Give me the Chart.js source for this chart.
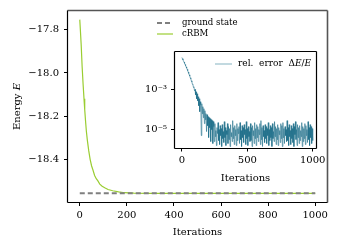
<!DOCTYPE html>
<html>
<head>
<meta charset="utf-8">
<script src="https://cdn.jsdelivr.net/npm/chart.js@4.4.1/dist/chart.umd.min.js"></script>
<style>
  body { margin: 0; background: #fff; }
  #wrap { position: relative; width: 340px; height: 250px; }
  canvas { position: absolute; }
</style>
</head>
<body>
<div id="wrap">
  <canvas id="main" width="340" height="250" style="left:0;top:0"></canvas>
  <canvas id="inset" width="200" height="145" style="left:130px;top:45px"></canvas>
</div>
<script>
// main panel
const xTickValues = [0, 200, 400, 600, 800, 1000];
const yTickValues = [-17.8, -18.0, -18.2, -18.4];
const groundIter = [0, 1000];
const groundEnergy = [-18.558, -18.558];
const crbmIter = [0, 3, 6, 10, 14, 18, 21, 25, 28, 32, 38, 44, 50, 56, 63, 70, 77, 85, 95,
  106, 120, 140, 165, 190, 230, 300, 400, 500, 600, 700, 800, 900, 1000];
const crbmEnergy = [-17.753, -17.81, -17.87, -17.97, -18.05, -18.12, -18.17, -18.23, -18.27,
  -18.31, -18.36, -18.40, -18.43, -18.45, -18.475, -18.49, -18.50, -18.515, -18.525,
  -18.532, -18.540, -18.546, -18.551, -18.555, -18.557, -18.558, -18.558, -18.558,
  -18.558, -18.558, -18.558, -18.558, -18.558];

// inset: relative error, one value every errStep iterations, stored as log10 exponent
const insetXTicks = [0, 500, 1000];
const insetYTicks = [1e-3, 1e-5];
const errStep = 4;
const relErrExp = [
  -1.38, -1.44, -1.50, -1.55, -1.61, -1.67, -1.73, -1.79, -1.85, -1.91,
  -1.97, -2.04, -2.11, -2.18, -2.25, -2.31, -2.40, -2.45, -2.55, -2.60,
  -2.72, -2.74, -2.88, -2.85, -3.05, -2.98, -3.25, -3.10, -3.45, -3.20,
  -3.55, -3.35, -3.80, -3.45, -4.10, -3.60, -3.75, -5.30, -3.70, -4.20,
  -3.85, -4.40, -3.95, -4.70, -4.05, -4.50, -4.20, -5.10, -4.25, -4.80,
  -4.35, -5.40, -4.40, -4.90, -4.45, -5.60, -4.50, -5.00, -4.55, -5.70,
  -4.60,
  -4.85, -5.60, -4.70, -5.35, -5.05, -5.80, -4.90, -5.20, -4.65, -5.55,
  -5.00, -5.75, -4.80, -5.30, -4.95, -5.85, -4.75, -5.45, -5.10, -5.65,
  -4.60, -5.40, -4.90, -5.80, -5.05, -5.25, -4.70, -5.70, -4.85, -5.50,
  -4.95, -5.85, -4.75, -5.35, -5.15, -5.60, -4.55, -5.45, -4.90, -5.75,
  -4.80, -5.30, -5.00, -5.80, -4.70, -5.55, -4.95, -5.20, -4.85, -5.70,
  -4.65, -5.50, -5.05, -5.85, -4.80, -5.40, -4.90, -5.65, -4.75, -5.25,
  -5.00, -5.75, -4.60, -5.45, -4.95, -5.80, -4.85, -5.35, -5.10, -5.60,
  -4.70, -5.55, -4.90, -5.85, -4.80, -5.30, -5.05, -5.70, -4.65, -5.45,
  -4.95, -5.80, -4.75, -5.40, -4.85, -5.60, -5.00, -5.25, -4.70, -5.75,
  -4.55, -5.50, -4.90, -5.85, -4.80, -5.35, -5.05, -5.65, -4.75, -5.45,
  -4.85, -5.70, -4.95, -5.30, -4.65, -5.80, -5.00, -5.55, -4.80, -5.40,
  -4.90, -5.85, -4.70, -5.45, -5.10, -5.60, -4.60, -5.35, -4.85, -5.75,
  -4.95, -5.50, -4.75, -5.80, -4.90, -5.25, -5.05, -5.65, -4.70, -5.45,
  -4.80, -5.85, -4.65, -5.40, -4.95, -5.70, -4.85, -5.30, -5.00, -5.60,
  -4.55, -5.55, -4.90, -5.80, -4.75, -5.35, -5.05, -5.75, -4.80, -5.45,
  -4.95, -5.65, -4.70, -5.85, -4.85, -5.25, -4.60, -5.50, -5.00, -5.80,
  -4.75, -5.40, -4.90, -5.70, -4.80, -5.55, -5.05, -5.35, -4.65, -5.85,
  -4.85, -5.60, -4.95, -5.45, -4.70, -5.75, -4.80, -5.30, -5.00, -5.65,
  -4.60, -5.50, -4.90, -5.80, -4.75, -5.40, -4.85, -5.70, -4.95, -5.55
];

const serif = "'DejaVu Serif', serif";
const GREEN = '#9acd32';
const GREY = '#7f7f7f';
const TEAL = 'rgba(28,110,136,0.85)';

function pts(xs, ys) {
  return xs.map((x, i) => ({ x, y: ys[i] }));
}

function fmtMinus(v) {
  const s = Math.abs(v).toFixed(1);
  return v < 0 ? '\u2212' + s : s;
}

const supDigits = { '-': '\u207B', '0': '\u2070', '1': '\u00B9', '2': '\u00B2', '3': '\u00B3',
  '4': '\u2074', '5': '\u2075', '6': '\u2076', '7': '\u2077', '8': '\u2078', '9': '\u2079' };
function fmtPow(v) {
  const e = String(Math.round(Math.log10(v)));
  return '10' + e.split('').map(c => supDigits[c]).join('');
}

// draw a run of [text, italic] pieces starting at x
function drawPieces(ctx, pieces, x, y, size) {
  for (const [t, it] of pieces) {
    ctx.font = (it ? 'italic ' : '') + size + 'px ' + serif;
    ctx.fillText(t, x, y);
    x += ctx.measureText(t).width;
  }
}
function piecesWidth(ctx, pieces, size) {
  let w = 0;
  for (const [t, it] of pieces) {
    ctx.font = (it ? 'italic ' : '') + size + 'px ' + serif;
    w += ctx.measureText(t).width;
  }
  return w;
}

function frame(colors) {
  return {
    id: 'frame',
    afterDraw(chart) {
      const { ctx, chartArea: a } = chart;
      const L = Math.round(a.left) - 0.5, R = Math.round(a.right) + 0.5;
      const T = Math.round(a.top) - 0.5, B = Math.round(a.bottom) + 0.5;
      const side = (x1, y1, x2, y2, c) => {
        ctx.strokeStyle = c[0];
        ctx.lineWidth = c[1];
        ctx.beginPath();
        ctx.moveTo(x1, y1);
        ctx.lineTo(x2, y2);
        ctx.stroke();
      };
      ctx.save();
      side(L, T, R, T, colors.top);
      side(R, T, R, B, colors.right);
      side(L, B, R, B, colors.bottom);
      side(L, T, L, B, colors.left);
      ctx.restore();
    }
  };
}

function fixTicks(values) {
  return (scale) => { scale.ticks = values.map(v => ({ value: v })); };
}

const tickFont = { family: serif, size: 10 };

// ---- main chart ----
const mainExtras = {
  id: 'mainExtras',
  afterDraw(chart) {
    const ctx = chart.ctx;
    ctx.save();
    ctx.fillStyle = '#000';
    ctx.textBaseline = 'middle';
    // y title with italic E
    const yt = [['Energy ', false], ['E', true]];
    ctx.translate(17, 106.5);
    ctx.rotate(-Math.PI / 2);
    drawPieces(ctx, yt, -piecesWidth(ctx, yt, 10) / 2, 0, 10);
    ctx.restore();

    // legend
    ctx.save();
    const ds = chart.data.datasets;
    const rows = [23, 34];
    ds.forEach((d, i) => {
      ctx.strokeStyle = d.borderColor;
      ctx.lineWidth = d.borderWidth;
      ctx.setLineDash(d.borderDash || []);
      ctx.beginPath();
      ctx.moveTo(157, rows[i]);
      ctx.lineTo(173, rows[i]);
      ctx.stroke();
      ctx.setLineDash([]);
      ctx.fillStyle = '#000';
      ctx.textBaseline = 'middle';
      ctx.font = '8.6px ' + serif;
      ctx.fillText(d.label, 182, rows[i]);
    });
    ctx.restore();
  }
};

new Chart(document.getElementById('main'), {
  type: 'line',
  data: {
    datasets: [
      {
        label: 'ground state',
        data: pts(groundIter, groundEnergy),
        borderColor: GREY,
        borderWidth: 2,
        borderDash: [5, 3],
        pointRadius: 0
      },
      {
        label: 'cRBM',
        data: pts(crbmIter, crbmEnergy),
        borderColor: GREEN,
        borderWidth: 1.2,
        pointRadius: 0
      }
    ]
  },
  options: {
    responsive: false,
    animation: false,
    devicePixelRatio: 1,
    layout: { padding: { left: 0, right: 13, top: 11, bottom: 0 } },
    plugins: { legend: { display: false }, tooltip: { enabled: false } },
    scales: {
      x: {
        type: 'linear',
        min: -50,
        max: 1050,
        afterBuildTicks: fixTicks(xTickValues),
        afterFit(s) { s.height = 48; s.paddingLeft = 0; s.paddingRight = 0; },
        border: { display: false },
        grid: { drawOnChartArea: false, drawTicks: true, tickLength: 4, tickColor: '#000' },
        ticks: { color: '#000', font: tickFont, padding: 3, maxRotation: 0, autoSkip: false, callback: v => String(v) },
        title: { display: true, text: 'Iterations', color: '#000', font: tickFont, padding: { top: 0, bottom: 12 } }
      },
      y: {
        type: 'linear',
        min: -18.598,
        max: -17.713,
        afterBuildTicks: fixTicks(yTickValues),
        afterFit(s) { s.width = 68; s.paddingTop = 0; s.paddingBottom = 0; },
        border: { display: false },
        grid: { drawOnChartArea: false, drawTicks: true, tickLength: 4, tickColor: '#000' },
        ticks: { color: '#000', font: tickFont, padding: 5, callback: v => fmtMinus(v) }
      }
    }
  },
  plugins: [
    frame({ top: ['#555', 1.6], right: ['#555', 1.6], bottom: ['#000', 1.2], left: ['#000', 1.2] }),
    mainExtras
  ]
});

// ---- inset chart ----
const insetExtras = {
  id: 'insetExtras',
  beforeDatasetsDraw(chart) {
    const { ctx, chartArea: a } = chart;
    ctx.save();
    ctx.fillStyle = '#fff';
    ctx.fillRect(a.left, a.top, a.right - a.left, a.bottom - a.top);
    ctx.restore();
  },
  afterDraw(chart) {
    const ctx = chart.ctx;
    ctx.save();
    ctx.strokeStyle = 'rgba(31,117,142,0.45)';
    ctx.lineWidth = 1.2;
    ctx.beginPath();
    ctx.moveTo(85, 19);
    ctx.lineTo(102, 19);
    ctx.stroke();
    ctx.fillStyle = '#000';
    ctx.textBaseline = 'middle';
    const parts = [['rel.  error  \u0394', false], ['E', true], ['/', false], ['E', true]];
    drawPieces(ctx, parts, 108, 19, 9);
    ctx.restore();
  }
};

new Chart(document.getElementById('inset'), {
  type: 'line',
  data: {
    datasets: [{
      label: 'rel. error \u0394E/E',
      data: relErrExp.map((e, i) => ({ x: i * errStep, y: Math.pow(10, e) })),
      borderColor: TEAL,
      borderWidth: 0.7,
      pointRadius: 0
    }]
  },
  options: {
    responsive: false,
    animation: false,
    devicePixelRatio: 1,
    layout: { padding: { left: 0, right: 14, top: 7, bottom: 0 } },
    plugins: { legend: { display: false }, tooltip: { enabled: false } },
    scales: {
      x: {
        type: 'linear',
        min: -53,
        max: 1025,
        afterBuildTicks: fixTicks(insetXTicks),
        afterFit(s) { s.height = 42.5; s.paddingLeft = 0; s.paddingRight = 0; },
        border: { display: false },
        grid: { drawOnChartArea: false, drawTicks: true, tickLength: 4, tickColor: '#000' },
        ticks: { color: '#000', font: tickFont, padding: 3, maxRotation: 0, autoSkip: false, callback: v => String(v) },
        title: { display: true, text: 'Iterations', color: '#000', font: tickFont, padding: { top: 0, bottom: 6 } }
      },
      y: {
        type: 'logarithmic',
        min: 1.26e-6,
        max: 7.9e-2,
        afterBuildTicks: fixTicks(insetYTicks),
        afterFit(s) { s.width = 45; s.paddingTop = 0; s.paddingBottom = 0; },
        border: { display: false },
        grid: { drawOnChartArea: false, drawTicks: true, tickLength: 4, tickColor: '#000' },
        ticks: { color: '#000', font: tickFont, padding: 4, callback: v => fmtPow(v) }
      }
    }
  },
  plugins: [
    insetExtras,
    frame({ top: ['#000', 1.2], right: ['#000', 1.2], bottom: ['#000', 1.2], left: ['#000', 1.2] })
  ]
});
</script>
</body>
</html>
